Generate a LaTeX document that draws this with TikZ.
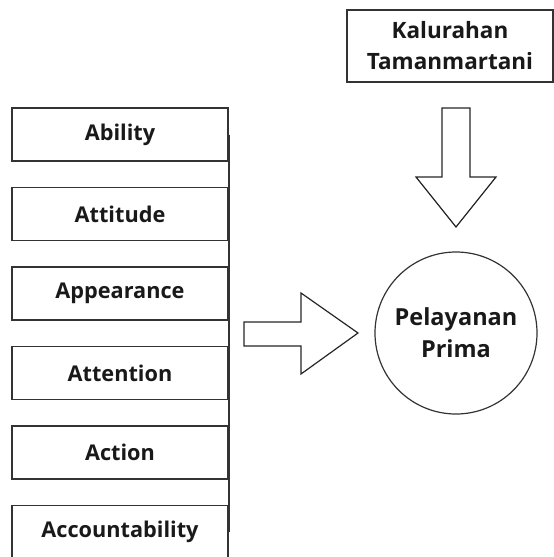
\documentclass[tikz,border=0pt]{standalone}
\usepackage{fontspec}
\setmainfont{Open Sans}
\usepackage{tikz}
\usetikzlibrary{arrows.meta, positioning, calc}

\begin{document}
\begin{tikzpicture}[
        x=1pt, y=-1pt,
        b/.style={draw=black!80, line width=1.6pt, minimum width=216pt, minimum height=53pt, inner sep=0pt, align=center, font=\fontsize{21.7}{31}\selectfont\bfseries, text=black!90},
        blk/.style={draw=black!85, line width=1.2pt, fill=white, line join=miter},
        >=Latex
    ]
        \useasboundingbox (0,0) rectangle (554,557);

        \node[b] (abil) at (120,134.5) {Ability};
        \node[b] (att)  at (120,214) {Attitude};
        \node[b] (app)  at (120,293.5) {Appearance};
        \node[b] (atn)  at (120,373) {Attention};
        \node[b] (act)  at (120,452.5) {Action};
        \node[b] (acc)  at (120,532) {Accountability};

        \node[b, minimum width=206pt, minimum height=72pt, font=\fontsize{22.5}{31}\selectfont\bfseries] (kal) at (450,46) {Kalurahan\\Tamanmartani};
        \node[b, circle, line width=1.2pt, minimum size=162pt, font=\fontsize{23.5}{32}\selectfont\bfseries] (pp) at (456,333) {Pelayanan\\Prima};

        \draw[draw=black!80, line width=1.6pt] (abil.east) -- (acc.east);

        % block arrows
        \draw[blk] (244,322) -- (301,322) -- (301,293) -- (358,333) -- (301,374) -- (301,346) -- (244,346) -- cycle;
        \draw[blk] (442,108) -- (470,108) -- (470,177) -- (496,177) -- (456,227) -- (416,177) -- (442,177) -- cycle;
    \end{tikzpicture}
\end{document}
